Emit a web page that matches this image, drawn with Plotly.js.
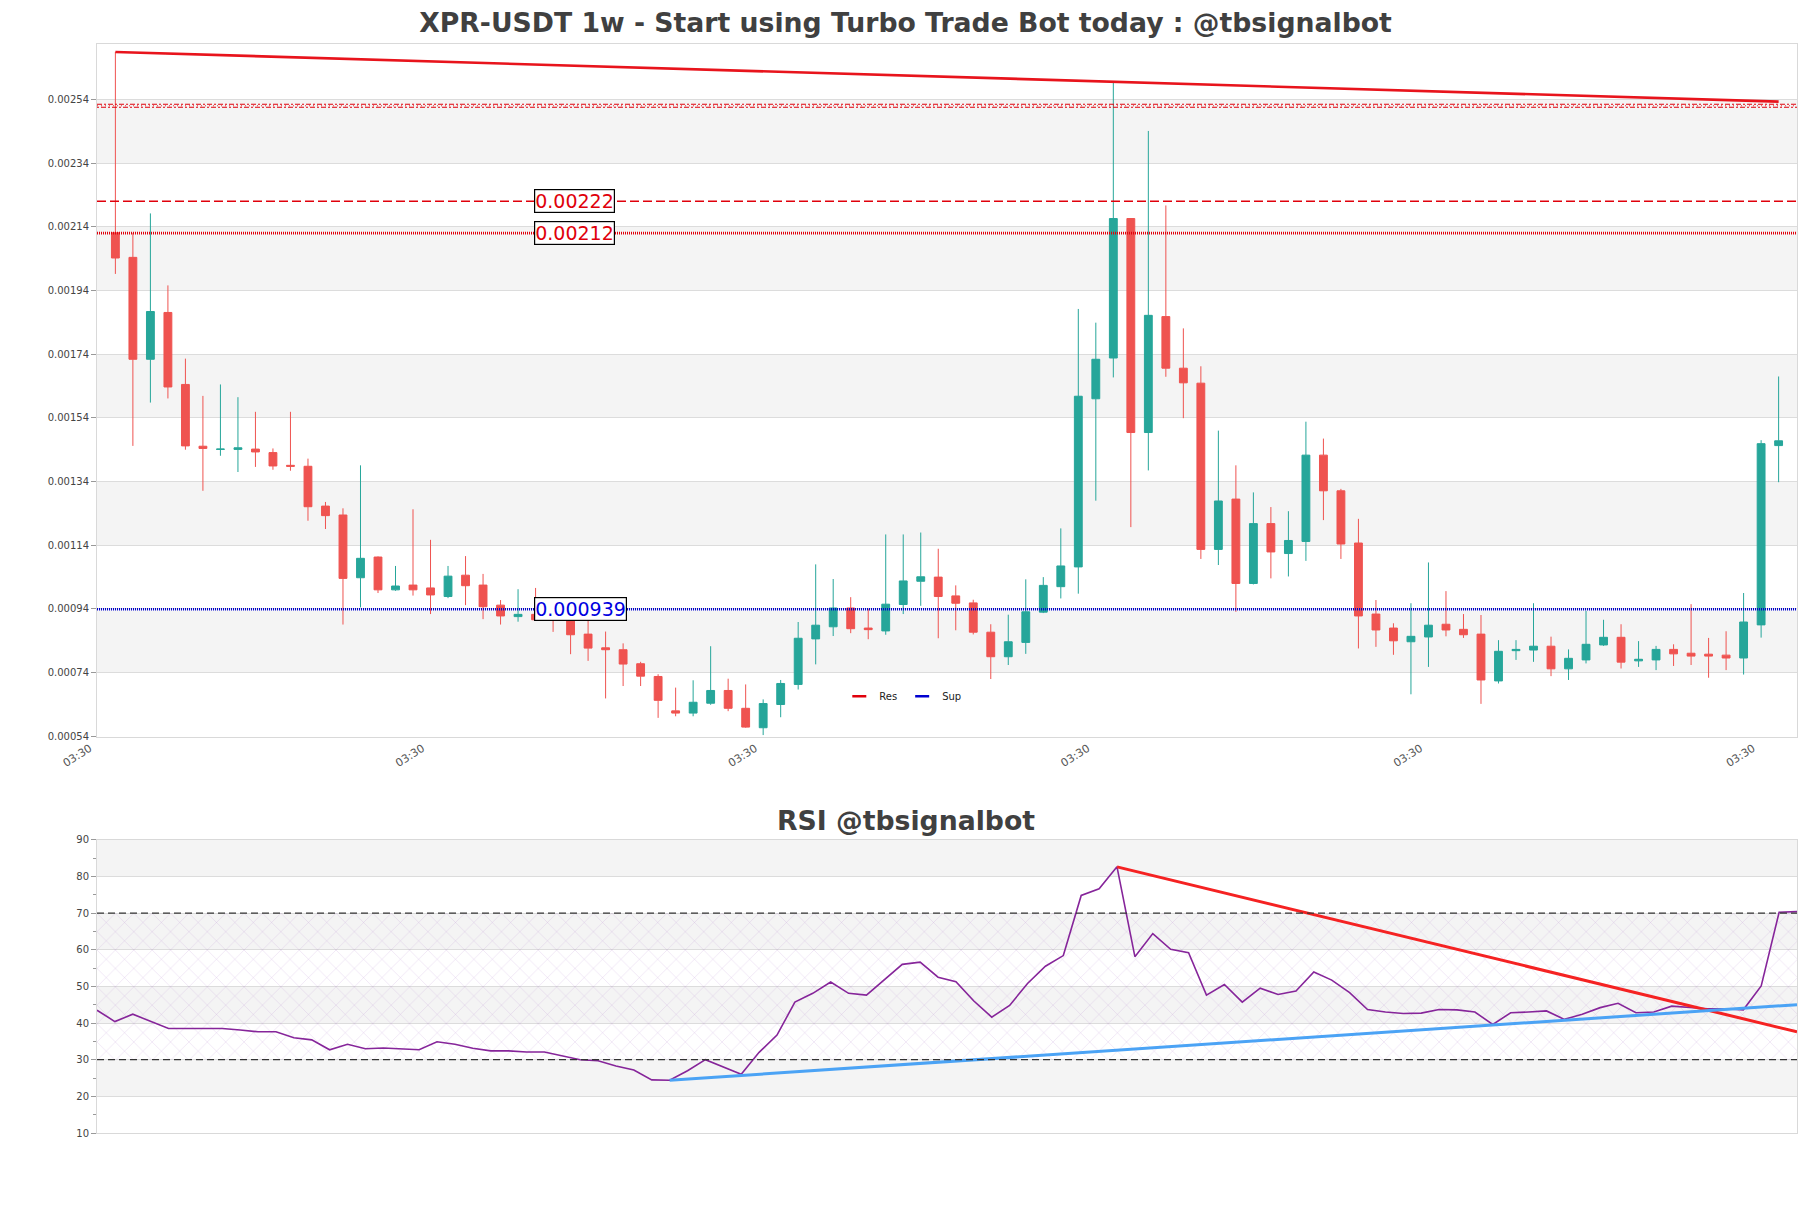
<!DOCTYPE html>
<html>
<head>
<meta charset="utf-8">
<script src="https://cdn.plot.ly/plotly-3.0.1.min.js"></script>
<style>
  html, body { margin: 0; padding: 0; background: #fff; }
  #chart { width: 1811px; height: 1208px; }
</style>
</head>
<body>
<div id="chart"></div>
<script>
// weekly XPR-USDT candles, oldest first
var opens = [0.002121, 0.002044, 0.001724, 0.001871, 0.001645, 0.001451, 0.001441, 0.001441, 0.001442, 0.001431,
  0.001391, 0.001388, 0.001263, 0.001235, 0.001038, 0.001103, 0.001000, 0.001015, 0.001006, 0.000979,
  0.001046, 0.001015, 0.000952, 0.000916, 0.000923, 0.000908, 0.000908, 0.000861, 0.000818, 0.000812,
  0.000768, 0.000728, 0.000620, 0.000613, 0.000644, 0.000684, 0.000628, 0.000567, 0.000640, 0.000703,
  0.000846, 0.000884, 0.000943, 0.000880, 0.000871, 0.000954, 0.001027, 0.001040, 0.000981, 0.000959,
  0.000867, 0.000790, 0.000835, 0.000930, 0.001010, 0.001072, 0.001600, 0.001728, 0.002166, 0.001494,
  0.001858, 0.001696, 0.001649, 0.001127, 0.001285, 0.001020, 0.001208, 0.001114, 0.001152, 0.001423,
  0.001311, 0.001147, 0.000924, 0.000880, 0.000837, 0.000852, 0.000892, 0.000876, 0.000861, 0.000714,
  0.000809, 0.000811, 0.000823, 0.000752, 0.000780, 0.000827, 0.000851, 0.000777, 0.000780, 0.000813,
  0.000801, 0.000798, 0.000795, 0.000786, 0.000890, 0.001453];
var highs = [0.002689, 0.002121, 0.002182, 0.001956, 0.001726, 0.001609, 0.001645, 0.001605, 0.001559, 0.001444,
  0.001559, 0.001412, 0.001276, 0.001256, 0.001391, 0.001105, 0.001075, 0.001253, 0.001157, 0.001075,
  0.001106, 0.001050, 0.000968, 0.001002, 0.001006, 0.000913, 0.000913, 0.000918, 0.000869, 0.000832,
  0.000774, 0.000735, 0.000693, 0.000716, 0.000823, 0.000721, 0.000703, 0.000656, 0.000717, 0.000899,
  0.001080, 0.001034, 0.000977, 0.000941, 0.001174, 0.001174, 0.001180, 0.001129, 0.001014, 0.000969,
  0.000892, 0.000922, 0.001033, 0.001040, 0.001193, 0.001882, 0.001839, 0.002595, 0.002166, 0.002441,
  0.002207, 0.001821, 0.001702, 0.001500, 0.001391, 0.001306, 0.001260, 0.001247, 0.001528, 0.001475,
  0.001317, 0.001223, 0.000968, 0.000895, 0.000958, 0.001086, 0.000996, 0.000924, 0.000921, 0.000842,
  0.000842, 0.000958, 0.000853, 0.000813, 0.000934, 0.000906, 0.000892, 0.000839, 0.000824, 0.000829,
  0.000955, 0.000849, 0.000870, 0.000990, 0.001470, 0.001670];
var lows = [0.001992, 0.001452, 0.001588, 0.001601, 0.001440, 0.001311, 0.001421, 0.001370, 0.001386, 0.001377,
  0.001374, 0.001217, 0.001191, 0.000891, 0.000945, 0.000990, 0.000997, 0.000982, 0.000924, 0.000974,
  0.000952, 0.000908, 0.000891, 0.000900, 0.000903, 0.000868, 0.000798, 0.000777, 0.000659, 0.000698,
  0.000698, 0.000598, 0.000603, 0.000603, 0.000639, 0.000619, 0.000567, 0.000544, 0.000600, 0.000687,
  0.000766, 0.000855, 0.000864, 0.000845, 0.000859, 0.000924, 0.000950, 0.000848, 0.000873, 0.000860,
  0.000720, 0.000764, 0.000799, 0.000927, 0.000973, 0.000988, 0.001280, 0.001667, 0.001197, 0.001375,
  0.001669, 0.001539, 0.001097, 0.001078, 0.000931, 0.001017, 0.001036, 0.001042, 0.001091, 0.001219,
  0.001097, 0.000816, 0.000821, 0.000796, 0.000672, 0.000758, 0.000854, 0.000849, 0.000642, 0.000706,
  0.000780, 0.000774, 0.000729, 0.000717, 0.000769, 0.000824, 0.000753, 0.000758, 0.000748, 0.000761,
  0.000764, 0.000724, 0.000748, 0.000734, 0.000850, 0.001338];
var closes = [0.002042, 0.001724, 0.001874, 0.001637, 0.001452, 0.001444, 0.001442, 0.001446, 0.001433, 0.001389,
  0.001388, 0.001261, 0.001233, 0.001036, 0.001099, 0.001000, 0.001012, 0.001000, 0.000984, 0.001043,
  0.001013, 0.000947, 0.000918, 0.000923, 0.000906, 0.000905, 0.000859, 0.000817, 0.000812, 0.000767,
  0.000729, 0.000653, 0.000613, 0.000647, 0.000684, 0.000628, 0.000569, 0.000643, 0.000706, 0.000848,
  0.000889, 0.000943, 0.000878, 0.000875, 0.000955, 0.001028, 0.001041, 0.000979, 0.000958, 0.000867,
  0.000790, 0.000837, 0.000931, 0.001014, 0.001075, 0.001608, 0.001724, 0.002166, 0.001494, 0.001862,
  0.001696, 0.001650, 0.001127, 0.001279, 0.001020, 0.001208, 0.001119, 0.001155, 0.001423, 0.001311,
  0.001144, 0.000918, 0.000874, 0.000840, 0.000854, 0.000889, 0.000874, 0.000859, 0.000717, 0.000807,
  0.000813, 0.000823, 0.000752, 0.000785, 0.000829, 0.000851, 0.000773, 0.000782, 0.000813, 0.000799,
  0.000792, 0.000792, 0.000786, 0.000899, 0.001459, 0.001468];

var rsi = [43.5, 40.4, 42.4, 40.4, 38.5, 38.5, 38.5, 38.5, 38.1, 37.6,
  37.6, 36.0, 35.4, 32.7, 34.2, 33.0, 33.2, 33.0, 32.7, 34.9,
  34.2, 33.1, 32.4, 32.4, 32.1, 32.1, 31.0, 30.0, 29.7, 28.3,
  27.2, 24.5, 24.4, 27.0, 30.0, 28.0, 26.0, 32.0, 36.7, 45.7,
  48.1, 51.2, 48.1, 47.6, 51.9, 56.0, 56.6, 52.5, 51.3, 46.0,
  41.6, 44.8, 50.8, 55.5, 58.4, 74.8, 76.6, 82.6, 58.1, 64.4,
  60.1, 59.2, 47.6, 50.5, 45.7, 49.5, 47.8, 48.7, 53.9, 51.7,
  48.3, 43.7, 43.0, 42.6, 42.7, 43.7, 43.6, 43.0, 39.6, 42.8,
  43.0, 43.3, 41.0, 42.4, 44.2, 45.4, 42.8, 43.0, 44.6, 44.2,
  43.9, 43.9, 43.6, 50.1, 70.2, 70.4];

var candleIdx = opens.map(function (v, i) { return i; });

var priceTicks = [0.00054, 0.00074, 0.00094, 0.00114, 0.00134, 0.00154, 0.00174, 0.00194, 0.00214, 0.00234, 0.00254];
var rsiTicks = [10, 20, 30, 40, 50, 60, 70, 80, 90];
var timeTickIdx = [-1, 18, 37, 56, 75, 94];
var timeTickText = ['03:30', '03:30', '03:30', '03:30', '03:30', '03:30'];

// resistance / support levels
var resLevels = [0.00252, 0.00222, 0.00212];
var supLevels = [0.000939];
var labelled = [0.00222, 0.00212, 0.000939];

// trend lines (candle index, value)
var trendX = [0, 95];
var trendY = [0.002689, 0.002533];
var rsiResX = [57, 95];
var rsiResY = [82.6, 37.6];
var rsiSupX = [32, 95];
var rsiSupY = [24.4, 45.0];
var rsiBounds = [30, 70];

var GREEN = '#26a69a', RED = '#ef5350', BAND = '#f4f4f4';
var RES_C = '#e0000b', SUP_C = '#0000d0';

var shapes = [];
// alternating grey bands
for (var k = 1; k + 1 < priceTicks.length; k += 2) {
  shapes.push({type: 'rect', xref: 'paper', yref: 'y', x0: 0, x1: 1, y0: priceTicks[k], y1: priceTicks[k + 1],
    fillcolor: BAND, line: {width: 0}, layer: 'below'});
}
for (var k = 1; k + 1 < rsiTicks.length; k += 2) {
  shapes.push({type: 'rect', xref: 'paper', yref: 'y2', x0: 0, x1: 1, y0: rsiTicks[k], y1: rsiTicks[k + 1],
    fillcolor: BAND, line: {width: 0}, layer: 'below'});
}

// top level is drawn as a doubled, crossed strand
var strand = 0.0000048;
shapes.push({type: 'line', xref: 'paper', yref: 'y', x0: 0, x1: 1, y0: resLevels[0] + strand, y1: resLevels[0] + strand,
  line: {color: RES_C, width: 1.1, dash: '5px,2px,2px,2px'}});
shapes.push({type: 'line', xref: 'paper', yref: 'y', x0: 0, x1: 1, y0: resLevels[0] - strand, y1: resLevels[0] - strand,
  line: {color: RES_C, width: 1.1, dash: '2px,2px,5px,2px'}});
shapes.push({type: 'line', xref: 'paper', yref: 'y', x0: 0, x1: 1, y0: resLevels[0], y1: resLevels[0],
  line: {color: RES_C, width: 0.8, dash: '1px,3px'}});
shapes.push({type: 'line', xref: 'paper', yref: 'y', x0: 0, x1: 1, y0: resLevels[1], y1: resLevels[1],
  line: {color: RES_C, width: 1.4, dash: '9px,4px'}});
shapes.push({type: 'line', xref: 'paper', yref: 'y', x0: 0, x1: 1, y0: resLevels[2], y1: resLevels[2],
  line: {color: RES_C, width: 2.6, dash: '1px,1px'}});
supLevels.forEach(function (lv) {
  shapes.push({type: 'line', xref: 'paper', yref: 'y', x0: 0, x1: 1, y0: lv, y1: lv,
    line: {color: SUP_C, width: 2.6, dash: '1px,1px'}});
});
rsiBounds.forEach(function (lv) {
  shapes.push({type: 'line', xref: 'paper', yref: 'y2', x0: 0, x1: 1, y0: lv, y1: lv,
    line: {color: '#333', width: 1.2, dash: '7px,4px'}});
});

var annotations = labelled.map(function (lv) {
  return {xref: 'x', yref: 'y', x: 23.9, y: lv, text: String(lv), showarrow: false,
    xanchor: 'left', yanchor: 'middle', bgcolor: '#fff', bordercolor: '#000', borderwidth: 1.2, borderpad: 0,
    font: {family: 'DejaVu Sans', size: 19, color: supLevels.indexOf(lv) >= 0 ? '#0000e0' : RES_C}};
});
annotations.push({xref: 'paper', yref: 'paper', x: 0.4756, y: 0.287, xanchor: 'center', yanchor: 'middle',
  text: '<b>RSI @tbsignalbot</b>', showarrow: false, font: {family: 'DejaVu Sans', size: 26.7, color: '#404040'}});

var candles = {
  type: 'candlestick', x: candleIdx, open: opens, high: highs, low: lows, close: closes,
  xaxis: 'x', yaxis: 'y', whiskerwidth: 0, showlegend: false, hoverinfo: 'skip',
  increasing: {line: {color: GREEN, width: 1}, fillcolor: GREEN},
  decreasing: {line: {color: RED, width: 1}, fillcolor: RED}
};

var trend = {type: 'scatter', mode: 'lines', x: trendX, y: trendY, xaxis: 'x', yaxis: 'y',
  line: {color: '#e8141c', width: 2.6}, showlegend: false, hoverinfo: 'skip'};

var resLegend = {type: 'scatter', mode: 'markers', x: [null], y: [null], name: 'Res', xaxis: 'x', yaxis: 'y',
  marker: {symbol: 'line-ew-open', size: 10, color: RES_C, line: {color: RES_C, width: 2.5}}};
var supLegend = {type: 'scatter', mode: 'markers', x: [null], y: [null], name: 'Sup', xaxis: 'x', yaxis: 'y',
  marker: {symbol: 'line-ew-open', size: 10, color: SUP_C, line: {color: SUP_C, width: 2.5}}};

var hatch = {type: 'scatter', mode: 'lines', xaxis: 'x2', yaxis: 'y2',
  x: [0, 95, 95, 0, 0], y: [rsiBounds[0], rsiBounds[0], rsiBounds[1], rsiBounds[1], rsiBounds[0]],
  fill: 'toself', fillcolor: 'rgba(0,0,0,0)', line: {width: 0},
  fillpattern: {shape: 'x', fgcolor: 'rgba(150,90,190,0.42)', bgcolor: 'rgba(0,0,0,0)', size: 13, solidity: 0.05},
  showlegend: false, hoverinfo: 'skip'};

var rsiLine = {type: 'scatter', mode: 'lines', x: candleIdx, y: rsi, xaxis: 'x2', yaxis: 'y2',
  line: {color: '#86259a', width: 1.6}, showlegend: false, hoverinfo: 'skip'};
var rsiRes = {type: 'scatter', mode: 'lines', x: rsiResX, y: rsiResY, xaxis: 'x2', yaxis: 'y2',
  line: {color: '#f52222', width: 3}, showlegend: false, hoverinfo: 'skip'};
var rsiSup = {type: 'scatter', mode: 'lines', x: rsiSupX, y: rsiSupY, xaxis: 'x2', yaxis: 'y2',
  line: {color: '#4ba3f5', width: 3}, showlegend: false, hoverinfo: 'skip'};

var data = [candles, trend, resLegend, supLegend, hatch, rsiLine, rsiRes, rsiSup];

var layout = {
  width: 1811, height: 1208,
  margin: {l: 97, r: 14, t: 44, b: 75},
  paper_bgcolor: '#fff', plot_bgcolor: '#fff',
  font: {family: 'DejaVu Sans', size: 10, color: '#444'},
  title: {text: '<b>XPR-USDT 1w - Start using Turbo Trade Bot today : @tbsignalbot</b>',
    x: 0.5, xref: 'container', y: 1 - 23 / 1208, yref: 'container', yanchor: 'middle',
    font: {family: 'DejaVu Sans', size: 26.7, color: '#404040'}},
  boxgap: 0.36,
  showlegend: true,
  legend: {orientation: 'h', x: 0.474, xanchor: 'center', y: 0.401, yanchor: 'middle',
    bgcolor: 'rgba(0,0,0,0)', font: {size: 10, color: '#222'}, itemwidth: 30},
  xaxis: {domain: [0, 1], anchor: 'y', range: [-1.05, 96.05],
    tickvals: timeTickIdx, ticktext: timeTickText, ticklabelshift: -8, ticklabelstandoff: 0,
    tickangle: -32, ticks: '', tickfont: {size: 11, color: '#555'},
    showgrid: false, zeroline: false, showline: true, mirror: true, linecolor: '#d9d9d9',
    rangeslider: {visible: false}},
  yaxis: {domain: [0.3636, 1], anchor: 'x', range: [0.0005378, 0.002714], tickvals: priceTicks,
    ticktext: priceTicks.map(function (v) { return v.toFixed(5); }),
    ticks: 'outside', ticklen: 5, tickcolor: '#999', gridcolor: '#dcdcdc', zeroline: false,
    showline: true, mirror: true, linecolor: '#d9d9d9', tickfont: {size: 10, color: '#444'}},
  xaxis2: {domain: [0, 1], anchor: 'y2', range: [0, 95], showticklabels: false, ticks: '',
    showgrid: false, zeroline: false, showline: true, mirror: true, linecolor: '#d9d9d9'},
  yaxis2: {domain: [0, 0.2693], anchor: 'x2', range: [10, 90], tickvals: rsiTicks,
    ticks: 'outside', ticklen: 5, tickcolor: '#999', gridcolor: '#dcdcdc', zeroline: false,
    showline: true, mirror: true, linecolor: '#d9d9d9', tickfont: {size: 10, color: '#444'},
    minor: {tickmode: 'linear', tick0: 15, dtick: 10, ticks: 'outside', ticklen: 3, tickcolor: '#999', showgrid: false}},
  shapes: shapes,
  annotations: annotations
};

Plotly.newPlot('chart', data, layout, {displayModeBar: false, staticPlot: true});
</script>
</body>
</html>
